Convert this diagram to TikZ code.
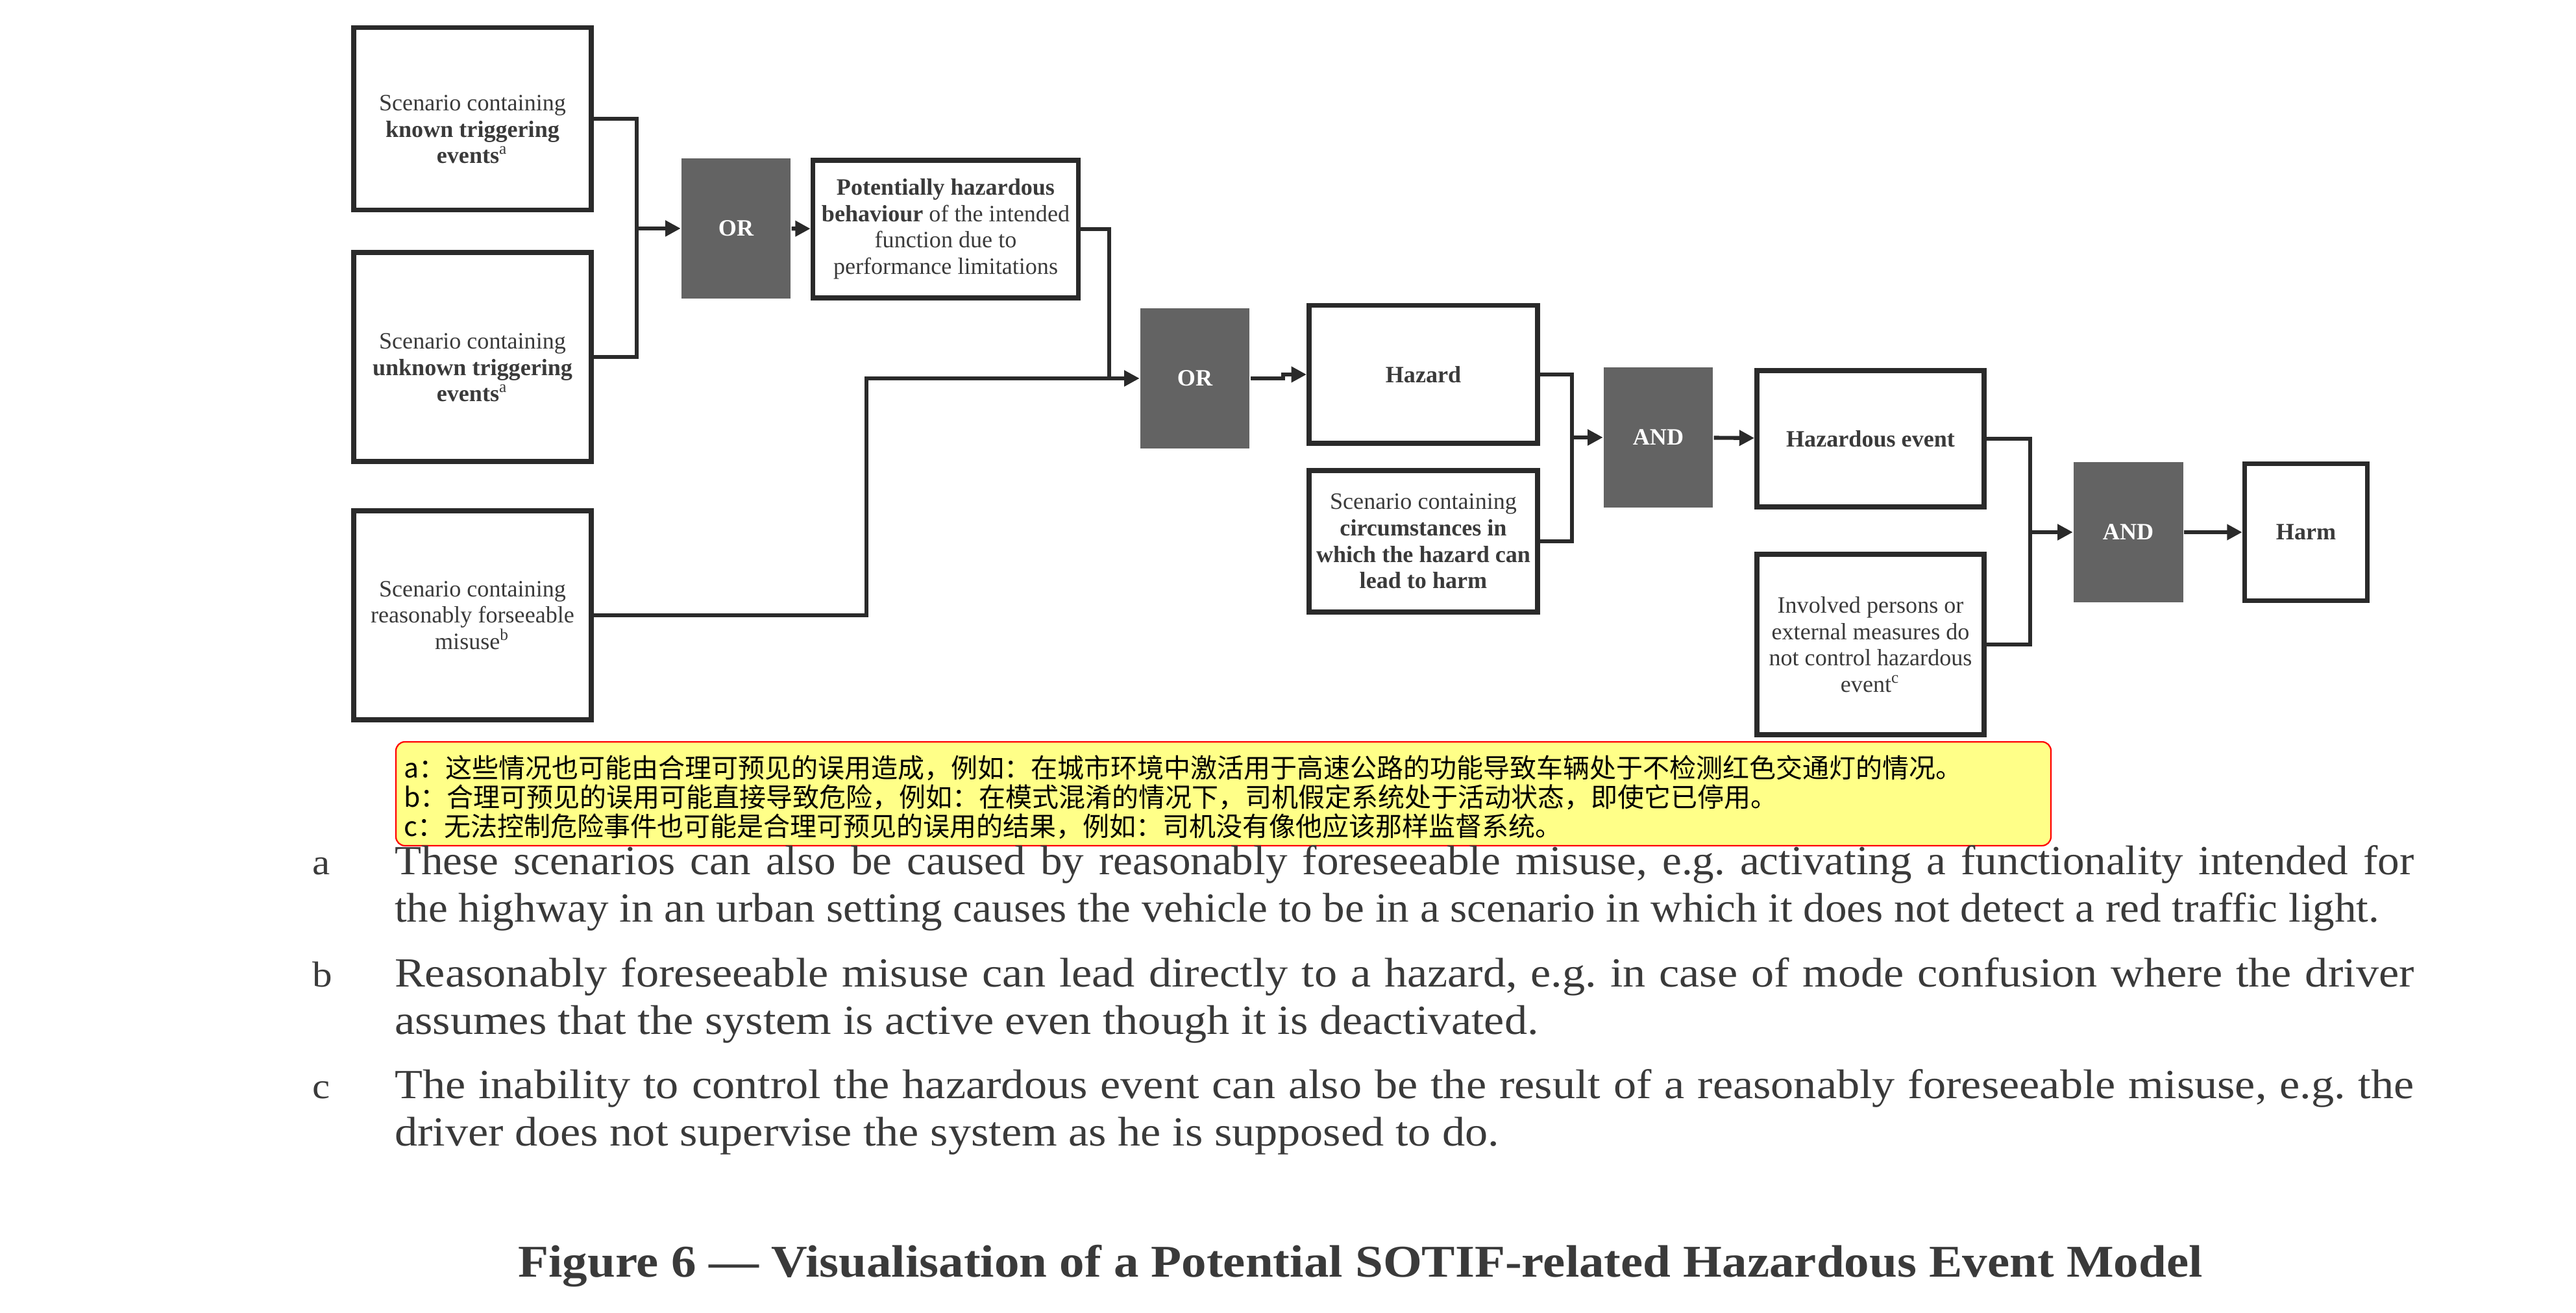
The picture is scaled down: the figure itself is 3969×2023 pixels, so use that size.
\documentclass[tikz,border=0pt]{standalone}
\usepackage{fontspec}
\setmainfont{Liberation Serif}
\newfontfamily\notefont[FakeStretch=1.1]{Liberation Serif}
\newfontfamily\notefontn[FakeStretch=1.05]{Liberation Serif}
\newfontfamily\cjk{Noto Sans CJK SC}
\usepackage{tikz}
\usetikzlibrary{arrows.meta}
\frenchspacing
\definecolor{boxline}{HTML}{2A2A2A}
\definecolor{gatefill}{HTML}{636363}
\definecolor{txtgray}{HTML}{3A3A3A}
\definecolor{noteyellow}{HTML}{FFFF88}
\tikzstyle{every node}=[font=\fontsize{6.5pt}{7.3pt}\selectfont, text=txtgray]
\tikzstyle{box}=[draw=boxline, line width=1.4pt, align=center, inner sep=1pt]
\tikzstyle{lowtext}=[text height=24.8pt]
\tikzstyle{gate}=[fill=gatefill, text=white, font=\fontsize{6.5pt}{7.3pt}\selectfont\bfseries, minimum width=30.4pt, minimum height=38.9pt]
\tikzstyle{wire}=[draw=boxline, line width=1.1pt, -{Triangle[length=4.2pt,width=4.2pt]}]
\tikzstyle{note}=[anchor=base west, inner sep=0pt, text width=560pt, align=justify, font=\notefont\fontsize{11.5pt}{13.1pt}\selectfont]
\tikzstyle{letter}=[anchor=base west, inner sep=0pt, font=\notefont\fontsize{10pt}{12pt}\selectfont]

\begin{document}
\begin{tikzpicture}[x=0.18pt, y=-0.18pt]
    \useasboundingbox (0,0) rectangle (3969,2023);
    \node[box, lowtext, minimum width=65.9pt, minimum height=50.6pt] (known) at (728,183) {Scenario containing\\\textbf{known triggering}\\\textbf{events}\textsuperscript{a}};
    \node[box, lowtext, minimum width=65.9pt, minimum height=58pt] (unknown) at (728,550) {Scenario containing\\\textbf{unknown triggering}\\\textbf{events}\textsuperscript{a}};
    \node[box, minimum width=65.9pt, minimum height=58pt] (misuse) at (728,948) {Scenario containing\\reasonably forseeable\\misuse\textsuperscript{b}};
    \node[gate] (or1) at (1134,352) {OR};
    \node[box, minimum width=73.6pt, minimum height=38.2pt] (behav) at (1457,353) {\textbf{Potentially hazardous}\\\textbf{behaviour} of the intended\\function due to\\performance limitations};
    \node[gate] (or2) at (1841,583) {OR};
    \node[box, minimum width=63.4pt, minimum height=38.3pt] (hazard) at (2193,577) {\textbf{Hazard}};
    \node[box, minimum width=63.4pt, minimum height=39.2pt] (circ) at (2193,834) {Scenario containing\\\textbf{circumstances in}\\\textbf{which the hazard can}\\\textbf{lead to harm}};
    \node[gate] (and1) at (2555,674) {AND};
    \node[box, minimum width=63pt, minimum height=37.8pt] (hevent) at (2882,676) {\textbf{Hazardous event}};
    \node[box, minimum width=63pt, minimum height=50pt] (involved) at (2882,993) {Involved persons or\\external measures do\\not control hazardous\\event\textsuperscript{c}};
    \node[gate] (and2) at (3279,820) {AND};
    \node[box, minimum width=34pt, minimum height=38pt] (harm) at (3553,820) {\textbf{Harm}};

    \draw[wire] (known.east) -- ++(66,0) |- (or1.west);
    \draw[wire] (unknown.east) -- ++(66,0) |- (or1.west);
    \draw[wire] (or1) -- (behav);
    \draw[wire] (behav.east) -- ++(44,0) |- (or2.west);
    \draw[wire] (misuse.east) -- ++(420,0) |- (or2.west);
    \draw[wire] (or2.east) -- ++(50,0) |- (hazard.west);
    \draw[wire] (hazard.east) -- ++(49,0) |- (and1.west);
    \draw[wire] (circ.east) -- ++(49,0) |- (and1.west);
    \draw[wire] (and1) -- (hevent);
    \draw[wire] (hevent.east) -- ++(67,0) |- (and2.west);
    \draw[wire] (involved.east) -- ++(67,0) |- (and2.west);
    \draw[wire] (and2) -- (harm);

    \draw[red, fill=noteyellow, line width=0.4pt, rounded corners=2.5pt] (610,1143) rectangle (3160,1303);
    \node[anchor=base west, inner sep=0pt, text width=480pt, align=left, text=black, font=\cjk\fontsize{7.38pt}{8.1pt}\selectfont] (cn) at (621,1199) {a：这些情况也可能由合理可预见的误用造成，例如：在城市环境中激活用于高速公路的功能导致车辆处于不检测红色交通灯的情况。\\b：合理可预见的误用可能直接导致危险，例如：在模式混淆的情况下，司机假定系统处于活动状态，即使它已停用。\\c：无法控制危险事件也可能是合理可预见的误用的结果，例如：司机没有像他应该那样监督系统。};

    \node[letter] (la) at (480,1348) {a};
    \node[note, font=\notefontn\fontsize{11.5pt}{13.1pt}\selectfont] (na) at (607,1348) {\parfillskip=0pt These scenarios can also be caused by reasonably foreseeable misuse, e.g. activating a functionality intended for\linebreak the highway in an urban setting causes the vehicle to be in a scenario in which it does not detect a red traffic light.};
    \node[letter] (lb) at (480,1521) {b};
    \node[note] (nb) at (607,1521) {Reasonably foreseeable misuse can lead directly to a hazard, e.g. in case of mode confusion where the driver\linebreak assumes that the system is active even though it is deactivated.};
    \node[letter] (lc) at (480,1693) {c};
    \node[note] (nc) at (607,1693) {The inability to control the hazardous event can also be the result of a reasonably foreseeable misuse, e.g. the\linebreak driver does not supervise the system as he is supposed to do.};

    \node[anchor=base, font=\notefont\fontsize{12.6pt}{15pt}\selectfont\bfseries] (caption) at (2096,1967) {Figure 6 — Visualisation of a Potential SOTIF-related Hazardous Event Model};
\end{tikzpicture}
\end{document}
